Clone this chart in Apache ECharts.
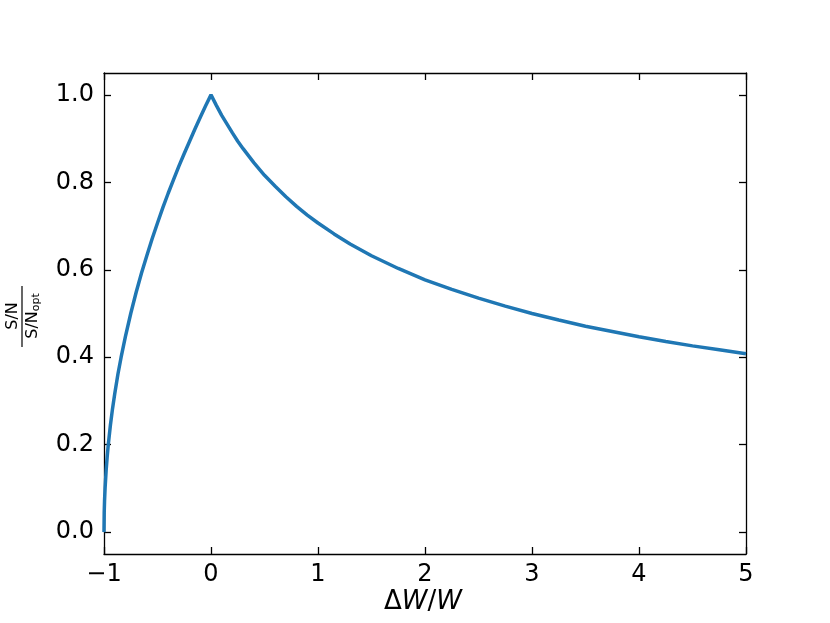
<!DOCTYPE html>
<html>
<head>
<meta charset="utf-8">
<script src="https://cdn.jsdelivr.net/npm/echarts@6/dist/echarts.min.js"></script>
<style>
  html, body { margin: 0; padding: 0; background: #fff; }
  #chart { width: 830px; height: 623px; }
</style>
</head>
<body>
<div id="chart"></div>
<script>
// values
var dw = [-1, -0.998, -0.995, -0.99, -0.98, -0.97, -0.96, -0.94, -0.92, -0.9, -0.87, -0.84, -0.8, -0.75, -0.7, -0.65, -0.6, -0.55,
  -0.5, -0.45, -0.4, -0.35, -0.3, -0.25, -0.2, -0.15, -0.1, -0.05, 0,
  0.05, 0.1, 0.15, 0.2, 0.25, 0.3, 0.35, 0.4, 0.5, 0.6, 0.7, 0.8, 0.9, 1, 1.15, 1.3, 1.5, 1.75, 2, 2.25, 2.5, 2.75, 3,
  3.25, 3.5, 3.75, 4, 4.25, 4.5, 4.75, 5];
var snr = [0, 0.045, 0.071, 0.1, 0.141, 0.173, 0.2, 0.245, 0.283, 0.316, 0.361, 0.4, 0.447, 0.5, 0.548, 0.592, 0.632, 0.671,
  0.707, 0.742, 0.775, 0.806, 0.837, 0.866, 0.894, 0.922, 0.949, 0.975, 1.0,
  0.976, 0.953, 0.933, 0.913, 0.894, 0.877, 0.861, 0.845, 0.816, 0.791, 0.767, 0.745, 0.725, 0.707, 0.682, 0.659, 0.632,
  0.603, 0.577, 0.555, 0.535, 0.517, 0.5, 0.485, 0.471, 0.459, 0.447, 0.436, 0.426, 0.417, 0.408];
var xTicks = [-1, 0, 1, 2, 3, 4, 5];
var yTicks = [0, 0.2, 0.4, 0.6, 0.8, 1.0];

var font = 'DejaVu Sans';
var pts = dw.map(function (x, i) { return [x, snr[i]]; });

var tickStyle = { inside: true, length: 7, lineStyle: { color: '#000', width: 1.3 } };
var lineStyle = { show: true, onZero: false, lineStyle: { color: '#000', width: 1.3 } };

function xAx(pos, labels) {
  return {
    type: 'value', position: pos, min: -1, max: 5,
    axisLine: lineStyle,
    axisTick: Object.assign({ customValues: xTicks }, tickStyle),
    axisLabel: {
      show: labels, customValues: xTicks, margin: 9,
      fontFamily: font, fontSize: 24, color: '#000',
      formatter: function (v) { return v < 0 ? '\u2212' + Math.abs(v) : String(v); }
    },
    splitLine: { show: false }
  };
}
function yAx(pos, labels) {
  return {
    type: 'value', position: pos, min: -0.05, max: 1.05,
    axisLine: lineStyle,
    axisTick: Object.assign({ customValues: yTicks }, tickStyle),
    axisLabel: {
      show: labels, customValues: yTicks, margin: 10,
      fontFamily: font, fontSize: 24, color: '#000',
      formatter: function (v) { return v.toFixed(1); }
    },
    splitLine: { show: false }
  };
}

var myChart = echarts.init(document.getElementById('chart'));
myChart.setOption({
  animation: false,
  backgroundColor: '#fff',
  grid: { left: 104, right: 84, top: 73, bottom: 69 },
  xAxis: [xAx('bottom', true), xAx('top', false)],
  yAxis: [yAx('left', true), yAx('right', false)],
  graphic: [
    {
      type: 'text', left: 384, top: 589,
      style: {
        text: '\u0394{i|W}/{i|W}', fontFamily: font, fontSize: 26, fill: '#000',
        rich: { i: { fontStyle: 'italic', fontFamily: font, fontSize: 26 } }
      }
    },
    {
      type: 'text', x: 5, y: 316, rotation: Math.PI / 2,
      style: { text: 'S/N', fontFamily: font, fontSize: 16, fill: '#000', align: 'center', verticalAlign: 'top' }
    },
    {
      type: 'line', shape: { x1: 22, y1: 286, x2: 22, y2: 347 },
      style: { stroke: '#000', lineWidth: 1.2 }
    },
    {
      type: 'text', x: 24, y: 316, rotation: Math.PI / 2,
      style: {
        text: 'S/N{s|opt}', fontFamily: font, fontSize: 16, fill: '#000', align: 'center', verticalAlign: 'top',
        rich: { s: { fontFamily: font, fontSize: 11, verticalAlign: 'bottom', padding: [7, 0, 0, 0] } }
      }
    }
  ],
  series: [{
    type: 'line',
    data: pts,
    showSymbol: false,
    clip: true,
    lineStyle: { color: '#1f77b4', width: 3.5 }
  }]
});
</script>
</body>
</html>
